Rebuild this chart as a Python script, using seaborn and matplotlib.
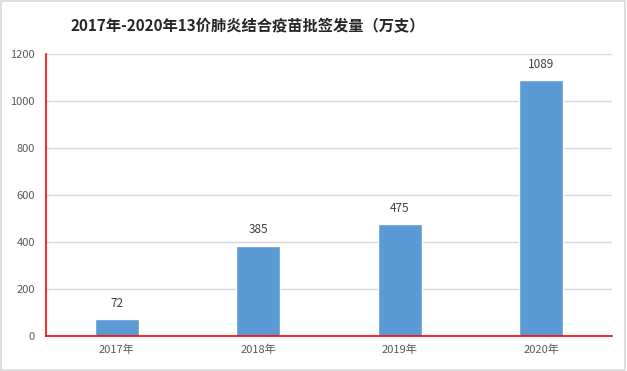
import numpy as np
import pandas as pd
import seaborn as sns
import matplotlib.pyplot as plt
from matplotlib.patches import Rectangle

years = ["2017年", "2018年", "2019年", "2020年"]
doses = [72, 385, 475, 1089]
y_ticks = [0, 200, 400, 600, 800, 1000, 1200]
title = "2017年-2020年13价肺炎结合疫苗批签发量（万支）"

df = pd.DataFrame({"year": years, "doses": doses})

sns.set_theme(style="white")
plt.rcParams['font.family'] = ['Noto Sans CJK SC', 'DejaVu Sans']

fig = plt.figure(figsize=(6.27, 3.71), dpi=100)
ax = fig.add_axes([0.0734, 0.0943, 0.9026, 0.7601])

sns.barplot(data=df, x="year", y="doses", color="#5B9BD5", width=0.31,
            saturation=1, ax=ax, zorder=3)

ax.set_ylim(0, 1200)
ax.set_xlim(-0.5, 3.5)
ax.set_yticks(y_ticks)
ax.grid(axis="y", color="#D9D9D9", linewidth=1, zorder=0)
ax.set_xlabel("")
ax.set_ylabel("")

for s in ["top", "right"]:
    ax.spines[s].set_visible(False)
for s in ["left", "bottom"]:
    ax.spines[s].set_color("#FF0000")
    ax.spines[s].set_linewidth(1.2)
    ax.spines[s].set_zorder(4)

ax.tick_params(axis="both", length=0, labelsize=8, labelcolor="#595959")
ax.tick_params(axis="y", pad=8)
ax.tick_params(axis="x", pad=6)

# value labels above bars
for i, v in enumerate(doses):
    ax.annotate(str(v), (i, v), xytext=(0, 11.5), textcoords="offset points",
                ha="center", va="center", fontsize=8.5, color="#404040")

fig.text(248 / 627, 1 - 26 / 371, title, ha="center", va="center",
         fontsize=11, fontweight="bold", color="#262626")

fig.patches.append(Rectangle((0.002, 0.003), 0.995, 0.994, transform=fig.transFigure,
                             fill=False, edgecolor="#D9D9D9", linewidth=1.2))

fig.savefig("out.png", dpi=100, facecolor="white")
